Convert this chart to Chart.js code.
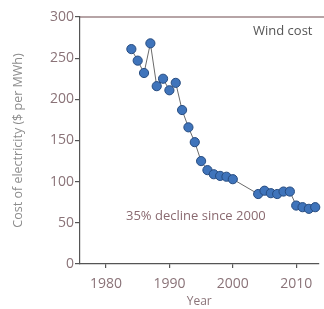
<!DOCTYPE html>
<html>
<head>
<meta charset="utf-8">
<script src="https://cdn.jsdelivr.net/npm/chart.js@4"></script>
<style>
  html, body { margin: 0; padding: 0; background: #fff; }
  #wrap { position: absolute; left: 0; top: 0; width: 324px; height: 309px; }
</style>
</head>
<body>
<div id="wrap"><canvas id="myChart"></canvas></div>
<script>
// data
const years = [1984, 1985, 1986, 1987, 1988, 1989, 1990, 1991, 1992, 1993, 1994, 1995, 1996, 1997, 1998, 1999, 2000,
               2004, 2005, 2006, 2007, 2008, 2009, 2010, 2011, 2012, 2013];
const windCost = [261, 247, 232, 268, 216, 225, 211, 220, 187, 166, 148, 125, 114, 109, 107, 106, 103,
                  85, 89, 86, 85, 88, 88, 71, 69, 67, 69];
const xTicks = [1980, 1990, 2000, 2010];
const yTicks = [0, 50, 100, 150, 200, 250, 300];

const FONT = "'Open Sans', 'DejaVu Sans', sans-serif";

const notes = {
  id: 'notes',
  afterDraw(chart) {
    const c = chart.ctx, a = chart.chartArea;
    c.save();
    // top border line
    c.strokeStyle = '#6e4a4e';
    c.lineWidth = 1.2;
    c.beginPath();
    c.moveTo(a.left, a.top);
    c.lineTo(chart.width, a.top);
    c.stroke();
    c.font = '13px ' + FONT;
    c.textBaseline = 'middle';
    c.fillStyle = '#555';
    c.textAlign = 'left';
    c.fillText('Wind cost', 253, 31);
    c.fillStyle = '#8a6a70';
    c.fillText('35% decline since 2000', 126, 216);
    c.restore();
  }
};

const ctx = document.getElementById('myChart');
const chart = new Chart(ctx, {
  type: 'scatter',
  data: {
    datasets: [{
      label: 'Wind cost',
      data: years.map((y, i) => ({ x: y, y: windCost[i] })),
      showLine: true,
      borderColor: '#6a6a6a',
      borderWidth: 1,
      pointRadius: 4.6,
      pointBackgroundColor: '#3f74bb',
      pointBorderColor: '#274c80',
      pointBorderWidth: 1,
      clip: false
    }]
  },
  options: {
    responsive: true,
    maintainAspectRatio: false,
    animation: false,
    layout: { padding: { top: 17, right: 0, left: 11, bottom: 0 } },
    plugins: {
      legend: { display: false },
      tooltip: { enabled: false }
    },
    scales: {
      x: {
        type: 'linear',
        min: 1975.9,
        max: 2013.5,
        afterBuildTicks: s => { s.ticks = xTicks.map(v => ({ value: v })); },
        afterFit: s => { s.height = 45; },
        grid: { drawOnChartArea: false, drawTicks: true, tickLength: 4, color: '#555', lineWidth: 1.2 },
        border: { color: '#555', width: 1.2 },
        ticks: { color: '#8a7378', font: { family: FONT, size: 14 }, padding: 8, callback: v => String(v) },
        title: { display: true, text: 'Year', color: '#8a7378', font: { family: FONT, size: 12 }, padding: { top: 0, bottom: 0 } }
      },
      y: {
        min: 0,
        max: 300,
        afterBuildTicks: s => { s.ticks = yTicks.map(v => ({ value: v })); },
        afterFit: s => { s.width = 69; },
        grid: { drawOnChartArea: false, drawTicks: true, tickLength: 5, color: '#555', lineWidth: 1.2 },
        border: { color: '#555', width: 1.2 },
        ticks: { color: '#8a7378', font: { family: FONT, size: 14 }, padding: 1 },
        title: { display: true, text: 'Cost of electricity ($ per MWh)', color: '#8c8c8c', font: { family: FONT, size: 12.5 }, padding: { top: 0, bottom: 4 } }
      }
    }
  },
  plugins: [notes]
});
</script>
</body>
</html>
